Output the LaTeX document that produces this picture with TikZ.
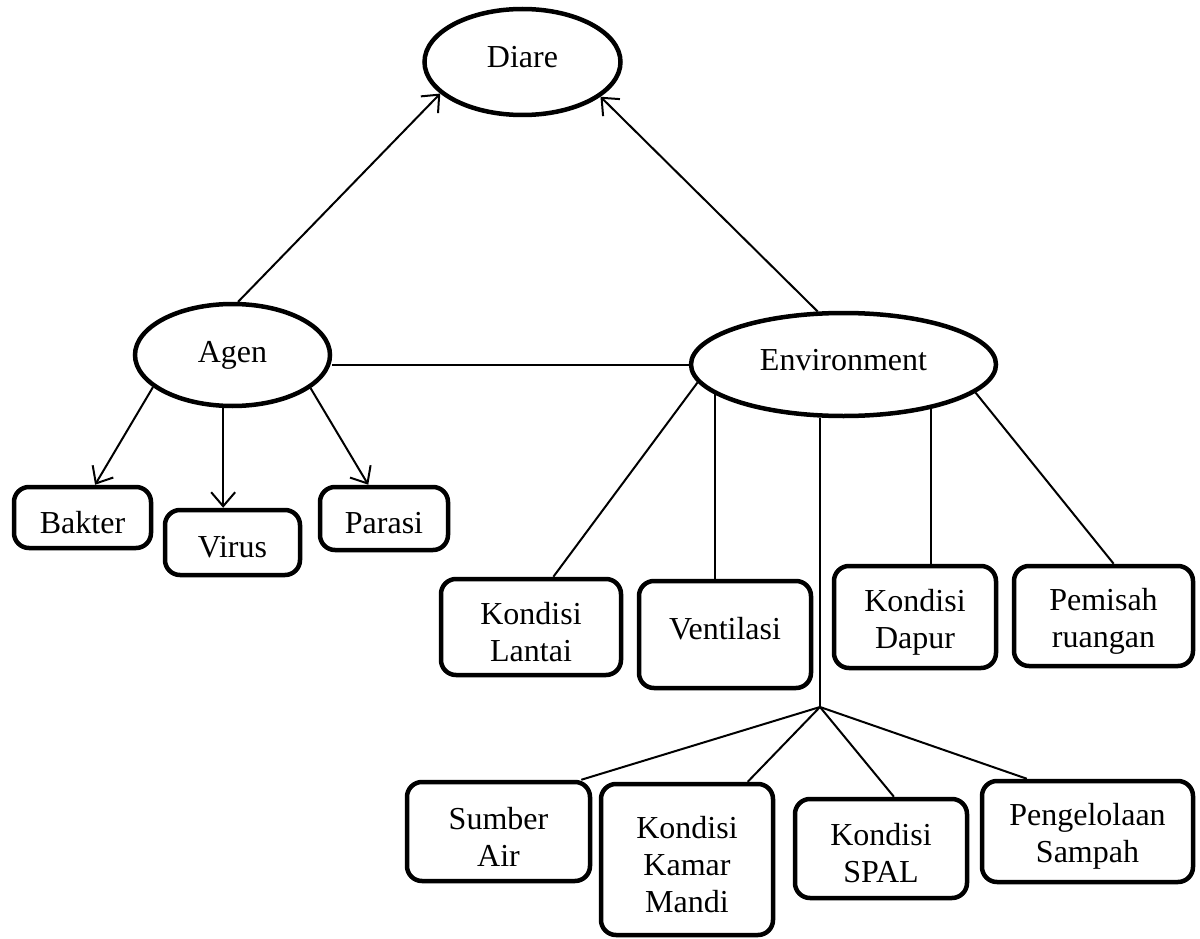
\documentclass[tikz,border=0pt]{standalone}
\usepackage{fontspec}
\setmainfont{Liberation Serif}
\usetikzlibrary{arrows.meta,shapes.geometric}
\begin{document}
\begin{tikzpicture}[x=1pt,y=-1pt,
  every node/.style={font=\fontsize{32}{37}\selectfont},
  oval/.style={ellipse, draw, line width=4.5pt, inner sep=0pt},
  box/.style={rectangle, rounded corners=15pt, draw, line width=4.5pt, inner sep=0pt},
  lab/.style={align=center, inner sep=0pt, yshift=-5pt},
  labup/.style={align=center, inner sep=0pt, yshift=6pt},
  conn/.style={line width=2pt},
  arr/.style={conn, -{Straight Barb[length=14pt,width=24pt]}}
]
\useasboundingbox (0,0) rectangle (1200,939);
% ellipses
\node[oval, minimum width=196pt, minimum height=106pt, text depth=10pt] (diare) at (522.5,62) {Diare};
\node[oval, minimum width=195pt, minimum height=102pt] (agen) at (232.5,355) {Agen};
\node[oval, minimum width=305pt, minimum height=103pt, text depth=9pt] (env) at (843.5,364.5) {Environment};
% agent boxes
\node[box, minimum width=137pt, minimum height=61pt, label={[lab]center:Bakter}] (bakter) at (82.5,517.5) {};
\node[box, minimum width=135pt, minimum height=65pt, label={[lab]center:Virus}] (virus) at (232.5,542.5) {};
\node[box, minimum width=128pt, minimum height=63pt, label={[lab]center:Parasi}] (parasi) at (384,518.5) {};
% environment boxes
\node[box, minimum width=180pt, minimum height=96pt, label={[lab]center:{Kondisi\\Lantai}}] (lantai) at (531,627) {};
\node[box, minimum width=172pt, minimum height=107pt, label={[labup]center:Ventilasi}] (ventilasi) at (725,634.5) {};
\node[box, minimum width=162pt, minimum height=102pt, label={[lab]center:{Kondisi\\Dapur}}] (dapur) at (915,617) {};
\node[box, minimum width=179pt, minimum height=100pt, label={[lab]center:{Pemisah\\ruangan}}] (pemisah) at (1103.5,616) {};
\node[box, minimum width=183pt, minimum height=99pt, label={[lab]center:{Sumber\\Air}}] (sumber) at (498.5,831.5) {};
\node[box, minimum width=172pt, minimum height=151pt, label={[lab]center:{Kondisi\\Kamar\\Mandi}}] (kamar) at (687,859.5) {};
\node[box, minimum width=172pt, minimum height=99pt, label={[lab]center:{Kondisi\\SPAL}}] (spal) at (881,848.5) {};
\node[box, minimum width=211pt, minimum height=101pt, label={[lab]center:{Pengelolaan\\Sampah}}] (pengelolaan) at (1087.5,831.5) {};
\coordinate (j) at (820,707);
% connectors
\draw[arr] (agen.84) -- (diare.201);
\draw[arr] (env.116) -- (diare.336);
\draw[arr] (agen.202) -- (bakter.69);
\draw[arr] (agen.260) -- (agen.260 |- virus.north);
\draw[arr] (agen.337) -- (parasi.115);
\draw[conn] (env.west) -- (env.west -| agen.east);
\draw[conn] (env.187) -- (lantai.66);
\draw[conn] (env.193) -- (env.193 |- ventilasi.north);
\draw[conn] (j |- env.south) -- (j);
\draw[conn] (env.333) -- (env.333 |- dapur.north);
\draw[conn] (env.348) -- (pemisah.79);
\draw[conn] (j) -- (sumber.32);
\draw[conn] (j) -- (kamar.52.5);
\draw[conn] (j) -- (spal.76);
\draw[conn] (j) -- (pengelolaan.139);
\end{tikzpicture}
\end{document}
